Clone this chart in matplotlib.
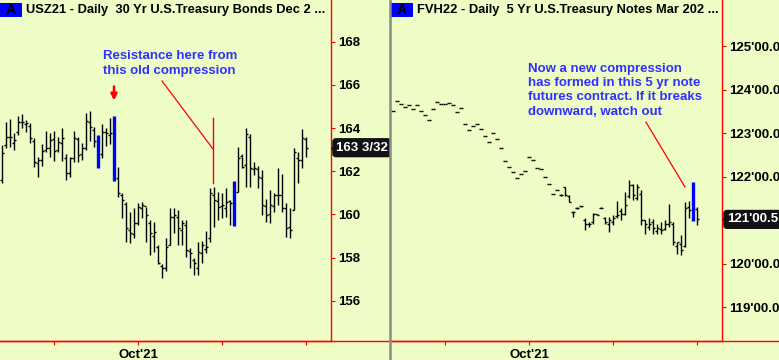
import numpy as np
import pandas as pd
import matplotlib
matplotlib.use("Agg")
import matplotlib.pyplot as plt
from matplotlib.lines import Line2D
from matplotlib.patches import Rectangle
from matplotlib.transforms import blended_transform_factory

plt.rcParams['font.family'] = ['Liberation Sans', 'DejaVu Sans']

# trading days Aug 13 2021 -> Dec 1 2021 (no Labor Day / Thanksgiving)
dates = pd.bdate_range('2021-08-13', '2021-12-01')
dates = dates[~dates.isin(pd.to_datetime(['2021-09-06', '2021-11-25']))]

# USZ21 daily bars
usz_high = [163.21, 164.26, 164.42, 163.75, 164.57, 164.63, 164.37, 164.22, 163.55, 162.67,
            163.24, 163.86, 163.75, 163.86, 163.60, 163.98, 162.78, 162.67, 163.86, 163.60,
            163.29, 164.68, 164.79, 164.06, 163.68, 164.17, 163.98, 164.48, 164.56, 162.21,
            160.97, 160.59, 160.13, 160.28, 160.51, 160.59, 160.36, 159.74, 159.67, 158.58,
            157.69, 158.89, 160.31, 160.28, 160.20, 159.74, 159.74, 158.43, 157.97, 158.74,
            158.77, 159.23, 161.21, 161.29, 161.02, 160.97, 161.21, 160.67, 161.55, 163.14,
            162.78, 164.02, 163.71, 162.44, 162.26, 162.06, 160.71, 161.13, 160.97, 162.13,
            161.86, 160.51, 160.28, 163.06, 162.90, 163.95, 163.60]
usz_low = [161.44, 163.09, 163.14, 162.98, 163.68, 164.02, 163.83, 163.29, 162.21, 161.75,
           162.26, 162.90, 162.67, 162.47, 162.90, 162.47, 161.59, 161.75, 162.41, 162.44,
           162.52, 162.98, 163.40, 163.14, 162.16, 162.60, 163.18, 163.24, 161.56, 160.82,
           159.82, 158.74, 158.66, 158.89, 159.51, 159.82, 158.74, 158.12, 158.27, 157.69,
           157.04, 157.38, 158.58, 159.13, 158.58, 158.58, 158.04, 157.53, 157.19, 157.19,
           157.74, 158.20, 158.74, 159.43, 159.74, 159.82, 159.89, 159.51, 159.48, 161.02,
           162.13, 161.29, 161.29, 161.82, 161.21, 159.97, 159.67, 159.59, 160.13, 160.44,
           160.13, 158.97, 158.89, 160.20, 161.44, 162.13, 162.67]
usz_open = [161.60, 163.20, 163.60, 163.30, 163.80, 164.30, 164.20, 164.10, 163.40, 162.40,
            162.50, 163.00, 163.10, 163.50, 163.00, 163.30, 162.60, 161.90, 162.60, 163.50,
            162.80, 163.10, 164.30, 163.90, 163.40, 162.80, 163.80, 163.70, 163.70, 161.70,
            160.90, 160.50, 159.30, 159.10, 159.60, 160.30, 160.40, 159.60, 159.00, 158.50,
            157.60, 157.50, 158.60, 159.90, 159.90, 159.30, 159.50, 158.30, 157.90, 157.50,
            158.20, 158.40, 158.90, 160.90, 160.60, 160.40, 160.30, 160.60, 160.50, 161.05,
            162.70, 162.30, 163.60, 162.10, 162.10, 161.70, 160.40, 160.00, 160.40, 160.90,
            160.90, 160.30, 159.40, 160.20, 162.60, 162.50, 163.50]
usz_close = [162.83, 163.60, 163.60, 163.47, 164.26, 164.26, 164.22, 163.52, 162.41, 162.52,
             162.94, 163.06, 163.47, 162.94, 163.37, 163.52, 161.90, 162.60, 163.52, 162.75,
             163.09, 164.32, 164.06, 163.40, 162.80, 163.83, 163.75, 163.75, 161.80, 160.98,
             160.67, 159.36, 159.13, 159.59, 160.36, 160.44, 159.97, 159.13, 159.20, 157.74,
             157.50, 158.51, 159.89, 159.97, 159.36, 159.59, 158.35, 158.20, 157.74, 158.27,
             158.58, 158.51, 160.97, 160.67, 160.36, 160.44, 160.59, 160.51, 160.60, 162.60,
             162.20, 163.71, 162.13, 162.13, 161.75, 160.44, 159.97, 160.44, 160.90, 160.90,
             160.28, 159.36, 159.28, 162.90, 162.52, 163.52, 163.09]
usz_blue = [24, 28, 58]
usz_ticks = [156, 158, 160, 162, 164, 166, 168]
usz_tick_labels = ['156', '158', '160', '162', '164', '166', '168']

# FVH22 daily bars (early bars are flat dashes)
fvh_flat = [123.51, 123.74, 123.67, 123.61, 123.64, 123.56, 123.64, 123.51, 123.41, 123.31,
            123.56, 123.72, 123.68, 123.67, 123.70, 123.64, 123.49, 123.57, 123.21, 123.07,
            123.16, 123.21, 123.09, 122.93, 122.79, 123.01, 122.86, 122.65, 122.36, 122.21,
            122.11, 121.96, 122.07, 122.13, 122.46, 122.38, 122.19, 122.17, 121.98, 121.84,
            121.60, 121.69]
fvh_high = fvh_flat + [121.59, 121.77, 121.57, 121.21, 121.29, 121.32, 121.04, 120.96, 121.17, 121.15,
                       121.29, 121.08, 121.08, 121.11, 121.44, 121.27, 121.65, 121.92, 121.83, 121.83,
                       121.69, 121.00, 121.04, 121.02, 120.92, 120.96, 121.00, 121.38, 120.96, 120.50,
                       120.66, 121.42, 121.44, 121.88, 121.31]
fvh_low = fvh_flat + [121.55, 121.55, 121.42, 121.08, 121.25, 121.30, 120.77, 120.85, 120.91, 121.11,
                      121.27, 120.91, 120.73, 120.89, 121.04, 121.00, 121.11, 121.50, 121.47, 121.47,
                      120.89, 120.69, 120.77, 120.69, 120.69, 120.69, 120.77, 120.85, 120.43, 120.23,
                      120.20, 120.39, 121.04, 120.98, 120.89]
fvh_open = fvh_flat + [121.57, 121.77, 121.55, 121.19, 121.27, 121.32, 121.00, 120.92, 120.95, 121.15,
                       121.27, 121.05, 120.90, 120.95, 121.10, 121.20, 121.15, 121.55, 121.80, 121.50,
                       121.60, 121.00, 120.85, 120.95, 120.75, 120.80, 120.80, 120.90, 120.90, 120.40,
                       120.45, 120.40, 121.30, 121.20, 121.25]
fvh_close = fvh_flat + [121.57, 121.57, 121.42, 121.19, 121.27, 121.32, 120.92, 120.92, 121.15, 121.11,
                        121.27, 120.96, 121.00, 121.04, 121.11, 121.15, 121.35, 121.80, 121.57, 121.77,
                        121.00, 120.92, 120.92, 120.81, 120.81, 120.77, 120.92, 120.96, 120.50, 120.50,
                        120.31, 121.27, 121.23, 121.40, 121.016]
fvh_blue = [75]
fvh_ticks = [119, 120, 121, 122, 123, 124, 125]
# 121 label is hidden behind the last-price box
fvh_tick_labels = ["119'00.0", "120'00.0", "", "122'00.0", "123'00.0", "124'00.0", "125'00.0"]

bg = '#EEFDC6'
red = '#FF0000'
txt_blue = '#3030FF'

W, H = 779, 360
fig = plt.figure(figsize=(W / 100, H / 100), dpi=100, facecolor=bg)

ax1 = fig.add_axes([0, 19 / H, 331 / W, 341 / H], facecolor=bg)
ax2 = fig.add_axes([391 / W, 19 / H, 331 / W, 341 / H], facecolor=bg)


def draw_bars(ax, o, h, l, c, blue):
    o, h, l, c = map(np.asarray, (o, h, l, c))
    x = np.arange(len(h))
    keep = ~np.isin(x, blue)
    ax.vlines(x[keep], l[keep], h[keep], color='black', lw=1.0)
    ax.hlines(o[keep], x[keep] - 0.4, x[keep], color='black', lw=1.0)
    ax.hlines(c[keep], x[keep], x[keep] + 0.4, color='black', lw=1.0)
    ax.vlines(x[blue], l[blue], h[blue], color='#0000FF', lw=2.4)


def style_axis(ax, ylim, yticks, ylabels, last, last_label, title):
    ax.set_xlim(-0.5, 82.25)
    ax.set_ylim(*ylim)
    for s in ['top', 'left']:
        ax.spines[s].set_visible(False)
    for s in ['right', 'bottom']:
        ax.spines[s].set_color(red)
        ax.spines[s].set_linewidth(1.0)
    ax.yaxis.tick_right()
    ax.set_yticks(yticks)
    ax.set_yticklabels(ylabels, fontweight='bold')
    ax.tick_params(axis='y', colors=red, labelcolor='black', length=3, pad=2, labelsize=9.5)
    month_idx = [i for i in range(1, len(dates)) if dates[i].month != dates[i - 1].month]
    ax.set_xticks(month_idx)
    ax.set_xticklabels(["Oct'21" if dates[i].month == 10 else '' for i in month_idx], fontweight='bold')
    ax.tick_params(axis='x', colors=red, labelcolor='black', length=3, pad=3, labelsize=9.5)
    tr = blended_transform_factory(ax.transAxes, ax.transData)
    ax.plot([1.012], [last], marker='<', ms=6, color='#111111', transform=tr, clip_on=False, zorder=5)
    ax.annotate(last_label, xy=(1, last), xycoords=tr, xytext=(3.5, 0), textcoords='offset points',
                ha='left', va='center', color='white', fontweight='bold', fontsize=9.5,
                bbox=dict(boxstyle='round,pad=0.22', fc='#111111', ec='#111111'),
                annotation_clip=False, zorder=6)
    # "A" badge and title
    ax.add_patch(Rectangle((0, 1 - 17 / 341), 22 / 331, 14 / 341, transform=ax.transAxes,
                           fc='#0000FF', ec='none', clip_on=False))
    ax.text(11 / 331, 1 - 10 / 341, 'A', transform=ax.transAxes, ha='center', va='center',
            fontsize=10, fontweight='bold', color='black')
    ax.text(26 / 331, 1 - 10 / 341, title, transform=ax.transAxes, ha='left', va='center',
            fontsize=9.3, fontweight='bold', color='black')


draw_bars(ax1, usz_open, usz_high, usz_low, usz_close, usz_blue)
draw_bars(ax2, fvh_open, fvh_high, fvh_low, fvh_close, fvh_blue)

style_axis(ax1, (154.14, 169.93), usz_ticks, usz_tick_labels, usz_close[-1], '163 3/32',
           'USZ21 - Daily  30 Yr U.S.Treasury Bonds Dec 2 ...')
style_axis(ax2, (118.22, 126.06), fvh_ticks, fvh_tick_labels, fvh_close[-1], "121'00.5",
           'FVH22 - Daily  5 Yr U.S.Treasury Notes Mar 202 ...')

# annotations
ax1.text(25.2, 167.62, 'Resistance here from\nthis old compression', color=txt_blue,
         fontsize=9.5, fontweight='bold', ha='left', va='top', linespacing=1.35)
ax1.annotate('', xy=(28, 165.15), xytext=(28, 166.05),
             arrowprops=dict(arrowstyle='-|>', color=red, lw=1.8, mutation_scale=9))
ax1.plot([40, 52.75], [166.18, 163.03], color=red, lw=0.9)
ax1.plot([52.75, 52.75], [164.46, 161.45], color=red, lw=1.0)

ax2.text(33.7, 124.62, 'Now a new compression\nhas formed in this 5 yr note\nfutures contract. If it breaks\ndownward, watch out',
         color=txt_blue, fontsize=9.5, fontweight='bold', ha='left', va='top', linespacing=1.27)
ax2.plot([63.25, 73], [123.25, 121.76], color=red, lw=0.9)

# bottom line under label areas, panel divider
fig.add_artist(Line2D([0, 389 / W], [19 / H, 19 / H], color=red, lw=1.0))
fig.add_artist(Line2D([391 / W, 1], [19 / H, 19 / H], color=red, lw=1.0))
fig.add_artist(Line2D([390 / W, 390 / W], [0, 1], color='#8A8A8A', lw=1.8))

fig.savefig('out.png', dpi=100, facecolor=bg)
